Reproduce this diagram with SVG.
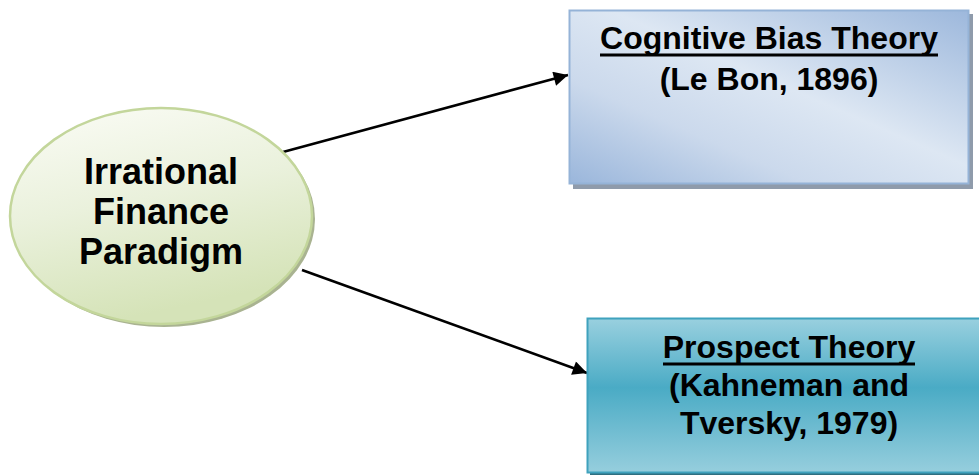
<svg xmlns="http://www.w3.org/2000/svg" width="979" height="475" viewBox="0 0 979 475">
<defs>
<linearGradient id="gEll" x1="0" y1="0" x2="0.3" y2="1">
<stop offset="0" stop-color="#fbfcf6"/>
<stop offset="0.5" stop-color="#eaf1dc"/>
<stop offset="1" stop-color="#d5e3b8"/>
</linearGradient>
<linearGradient id="gTop" x1="1" y1="0" x2="0" y2="1">
<stop offset="0" stop-color="#9db8dc"/>
<stop offset="0.45" stop-color="#dde7f3"/>
<stop offset="0.7" stop-color="#cbd9ec"/>
<stop offset="1" stop-color="#9ab6db"/>
</linearGradient>
<linearGradient id="gBot" x1="0" y1="0" x2="0" y2="1">
<stop offset="0" stop-color="#99d0df"/>
<stop offset="0.45" stop-color="#4aabc5"/>
<stop offset="1" stop-color="#96cedd"/>
</linearGradient>
<marker id="arr" viewBox="0 0 10 10" refX="10" refY="5" markerWidth="6.5" markerHeight="5.5" markerUnits="strokeWidth" orient="auto">
<path d="M0,0 L10,5 L0,10 z" fill="#000"/>
</marker>
</defs>
<style>
.t{font-family:"Liberation Sans",Arial,sans-serif;font-weight:bold;fill:#000;text-anchor:middle}
.s32{font-size:32px}
.s36{font-size:36px}
.con{stroke:#000;stroke-width:2.6;fill:none}
.ul{stroke:#000;stroke-width:3}
</style>
<rect width="979" height="475" fill="#fff"/>
<g id="connectors">
<line class="con" x1="283" y1="152" x2="568" y2="75" marker-end="url(#arr)"/>
<line class="con" x1="302" y1="270" x2="587" y2="373" marker-end="url(#arr)"/>
</g>
<g id="node-irrational">
<ellipse cx="164" cy="219" rx="151" ry="108" fill="#a9b391"/>
<ellipse cx="161" cy="216" rx="151" ry="108" fill="url(#gEll)" stroke="#c3d69b" stroke-width="2.5"/>
<text class="t s36" x="161" y="184">Irrational</text>
<text class="t s36" x="161" y="224">Finance</text>
<text class="t s36" x="161" y="264">Paradigm</text>
</g>
<g id="node-cognitive">
<rect x="573" y="14" width="400" height="175" fill="#8f9bab"/>
<rect x="569.5" y="10.5" width="399" height="173" fill="url(#gTop)" stroke="#95b3d7" stroke-width="2"/>
<text class="t s32" x="769" y="49">Cognitive Bias Theory</text>
<line class="ul" x1="600" y1="55" x2="938" y2="55"/>
<text class="t s32" x="769" y="90">(Le Bon, 1896)</text>
</g>
<g id="node-prospect">
<rect x="590" y="322" width="392" height="156" fill="#2f6f80"/>
<rect x="587.5" y="318.5" width="395" height="154" fill="url(#gBot)" stroke="#3fa2bd" stroke-width="2"/>
<text class="t s32" x="789" y="358">Prospect Theory</text>
<line class="ul" x1="663" y1="364" x2="915" y2="364"/>
<text class="t s32" x="789" y="396">(Kahneman and</text>
<text class="t s32" x="789" y="434">Tversky, 1979)</text>
</g>
</svg>
